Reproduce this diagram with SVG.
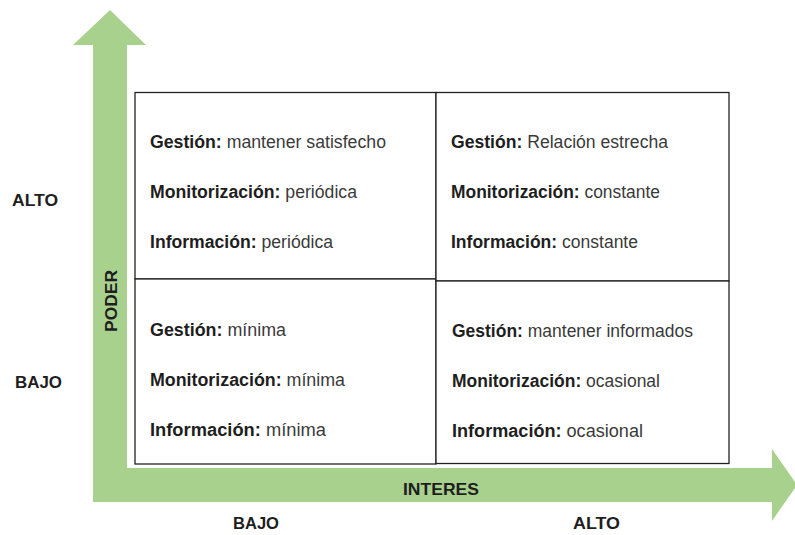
<svg xmlns="http://www.w3.org/2000/svg" width="795" height="535" viewBox="0 0 795 535">
<style>
.box{fill:#fff;stroke:#222;stroke-width:1.3}
.t{font-family:"Liberation Sans",Arial,sans-serif;font-size:17.5px;fill:#3a3a3a}
.b{font-weight:bold;fill:#1e1e1e}
.lab{font-family:"Liberation Sans",Arial,sans-serif;font-size:16.5px;font-weight:bold;fill:#1e1e1e}
</style>
<rect width="795" height="535" fill="#fff"/>
<g id="axes">
<polygon points="93,45 73,45 110,10 146,45 127,45 127,468 772,468 772,449 797,485 772,521 772,502 93,502" fill="#a9d18e"/>
</g>
<g id="connectors"></g>
<g id="grid">
<rect class="box" x="135" y="92.5" width="301" height="186.5"/>
<rect class="box" x="135" y="279" width="301" height="185"/>
<rect class="box" x="436" y="92.5" width="293" height="188.5"/>
<rect class="box" x="436" y="281" width="293" height="182.5"/>
</g>
<g id="q-alto-bajo">
<text class="t" x="150" y="148" textLength="236" lengthAdjust="spacingAndGlyphs"><tspan class="b">Gestión:</tspan> mantener satisfecho</text>
<text class="t" x="150" y="198" textLength="207" lengthAdjust="spacingAndGlyphs"><tspan class="b">Monitorización:</tspan> periódica</text>
<text class="t" x="150" y="248" textLength="183" lengthAdjust="spacingAndGlyphs"><tspan class="b">Información:</tspan> periódica</text>
</g>
<g id="q-alto-alto">
<text class="t" x="451" y="148" textLength="217" lengthAdjust="spacingAndGlyphs"><tspan class="b">Gestión:</tspan> Relación estrecha</text>
<text class="t" x="451" y="198" textLength="209" lengthAdjust="spacingAndGlyphs"><tspan class="b">Monitorización:</tspan> constante</text>
<text class="t" x="451" y="248" textLength="187" lengthAdjust="spacingAndGlyphs"><tspan class="b">Información:</tspan> constante</text>
</g>
<g id="q-bajo-bajo">
<text class="t" x="150" y="336" textLength="136" lengthAdjust="spacingAndGlyphs"><tspan class="b">Gestión:</tspan> mínima</text>
<text class="t" x="150" y="386" textLength="195" lengthAdjust="spacingAndGlyphs"><tspan class="b">Monitorización:</tspan> mínima</text>
<text class="t" x="150" y="436" textLength="176" lengthAdjust="spacingAndGlyphs"><tspan class="b">Información:</tspan>  mínima</text>
</g>
<g id="q-bajo-alto">
<text class="t" x="452" y="337" textLength="241" lengthAdjust="spacingAndGlyphs"><tspan class="b">Gestión:</tspan> mantener informados</text>
<text class="t" x="452" y="387" textLength="208" lengthAdjust="spacingAndGlyphs"><tspan class="b">Monitorización:</tspan> ocasional</text>
<text class="t" x="452" y="437" textLength="191" lengthAdjust="spacingAndGlyphs"><tspan class="b">Información:</tspan> ocasional</text>
</g>
<g id="labels">
<text class="lab" x="12" y="206" textLength="46" lengthAdjust="spacingAndGlyphs">ALTO</text>
<text class="lab" x="15" y="388" textLength="47" lengthAdjust="spacingAndGlyphs">BAJO</text>
<text class="lab" x="0" y="0" transform="translate(117,332) rotate(-90)" textLength="62" lengthAdjust="spacingAndGlyphs">PODER</text>
<text class="lab" x="403" y="495" textLength="76" lengthAdjust="spacingAndGlyphs">INTERES</text>
<text class="lab" x="233" y="529" textLength="46" lengthAdjust="spacingAndGlyphs">BAJO</text>
<text class="lab" x="573" y="529" textLength="47" lengthAdjust="spacingAndGlyphs">ALTO</text>
</g>
</svg>
